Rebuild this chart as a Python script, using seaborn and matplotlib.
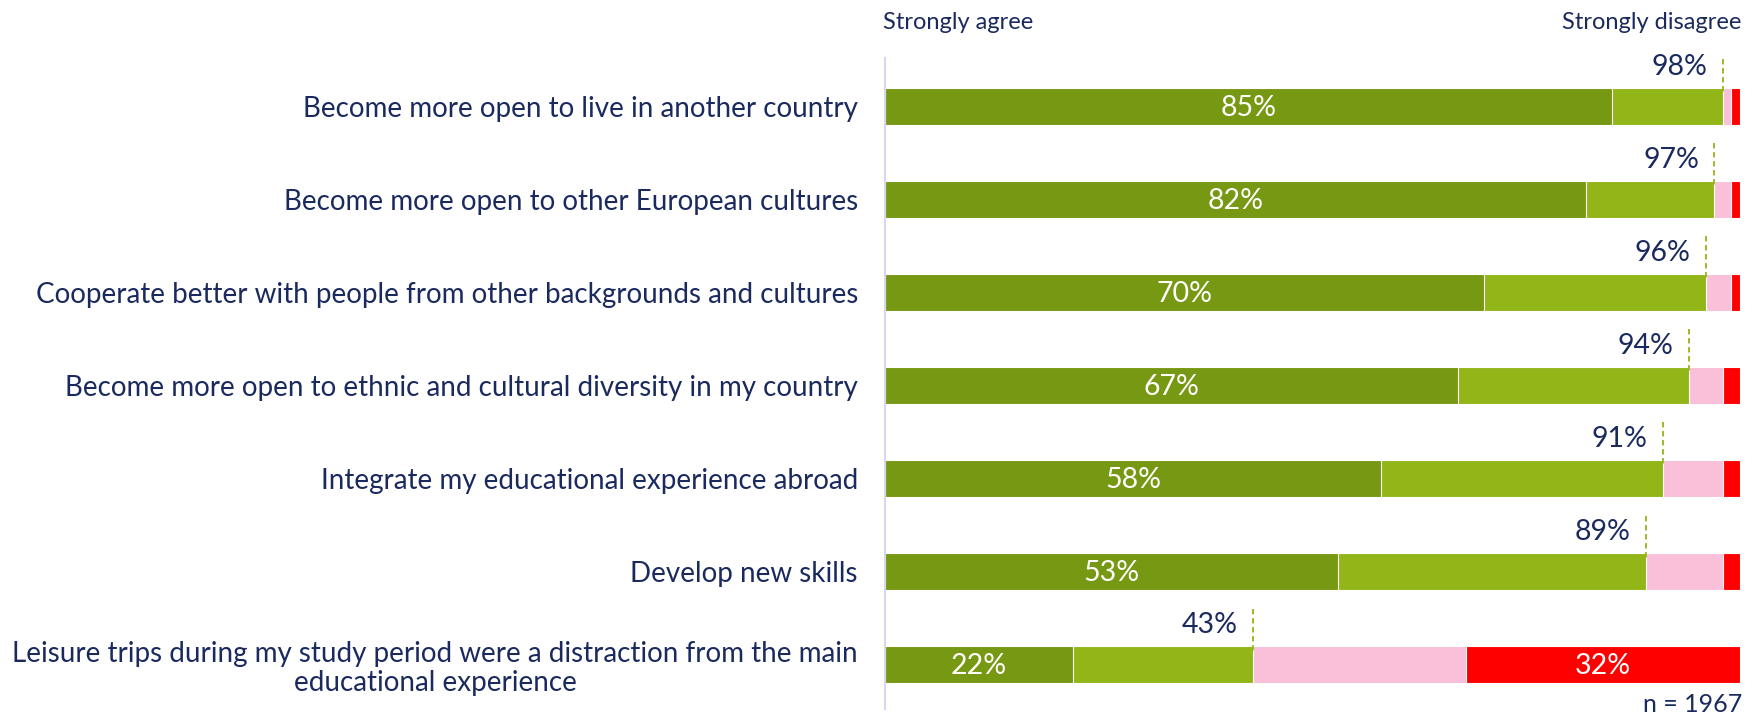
import matplotlib
matplotlib.use("Agg")
import matplotlib.pyplot as plt
import numpy as np
import pandas as pd
import seaborn as sns

# Survey statements (top to bottom)
statements = [
    "Become more open to live in another country",
    "Become more open to other European cultures",
    "Cooperate better with people from other backgrounds and cultures",
    "Become more open to ethnic and cultural diversity in my country",
    "Integrate my educational experience abroad",
    "Develop new skills",
    "Leisure trips during my study period were a distraction from the main\neducational experience",
]

# Share of respondents (%) per answer
strongly_agree = [85, 82, 70, 67, 58, 53, 22]
agree = [13, 15, 26, 27, 33, 36, 21]
disagree = [1, 2, 3, 4, 7, 9, 25]
strongly_disagree = [1, 1, 1, 2, 2, 2, 32]

header_left = "Strongly agree"
header_right = "Strongly disagree"
sample_note = "n = 1967"

C_SA = "#779812"
C_A = "#92B618"
C_D = "#FAC0DA"
C_SD = "#FF0000"
NAVY = "#1B2A5E"

sns.set_theme(style="white")
plt.rcParams["font.family"] = ["Lato", "DejaVu Sans"]

df = pd.DataFrame({
    "statement": statements,
    "sa": strongly_agree,
    "a": agree,
    "d": disagree,
    "sd": strongly_disagree,
})
df["cum_a"] = df["sa"] + df["a"]
df["cum_d"] = df["cum_a"] + df["d"]
df["cum_sd"] = df["cum_d"] + df["sd"]

fig = plt.figure(figsize=(17.47, 7.14), dpi=100)
ax = fig.add_axes([0.5066, 0.007, 0.4894, 0.912])

# Stacked bars drawn back-to-front as cumulative layers
for col, color in [("cum_sd", C_SD), ("cum_d", C_D), ("cum_a", C_A), ("sa", C_SA)]:
    sns.barplot(data=df, x=col, y="statement", order=statements, color=color,
                width=0.4, edgecolor="white", linewidth=0.8, saturation=1,
                ax=ax)

ax.set_xlim(0, 100)
ax.set_ylim(6.48, -0.52)
ax.set_xlabel("")
ax.set_ylabel("")
ax.set_xticks([])
for s in ["top", "right", "bottom"]:
    ax.spines[s].set_visible(False)
ax.spines["left"].set_color("#D6D8F0")
ax.spines["left"].set_linewidth(1.5)

FS = 20.5
ax.tick_params(axis="y", length=0, pad=19.5, labelsize=20, labelcolor=NAVY)
for lbl in ax.get_yticklabels():
    lbl.set_multialignment("center")
    lbl.set_linespacing(1.15)

for i, row in df.iterrows():
    # strongly agree share inside the bar
    ax.text(row["sa"] / 2, i + 0.02, f"{row['sa']}%", ha="center", va="center",
            color="white", fontsize=FS)
    # strongly disagree share when large enough
    if row["sd"] >= 10:
        ax.text(row["cum_d"] + row["sd"] / 2, i + 0.02, f"{row['sd']}%",
                ha="center", va="center", color="white", fontsize=FS)
    # total agreement marker above the bar
    ax.vlines(row["cum_a"], i - 0.6, i - 0.12, colors=C_A, linestyles=(0, (3, 2)),
              linewidth=1.3)
    ax.text(row["cum_a"] - 1.8, i - 0.28, f"{row['cum_a']}%", ha="right",
            va="bottom", color=NAVY, fontsize=FS)

fig.text(0.5055, 0.969, header_left, ha="left", va="center", color=NAVY, fontsize=17)
fig.text(0.9966, 0.969, header_right, ha="right", va="center", color=NAVY, fontsize=17)
fig.text(0.9975, 0.014, sample_note, ha="right", va="center", color=NAVY, fontsize=18)

fig.savefig("out.png", dpi=100)
